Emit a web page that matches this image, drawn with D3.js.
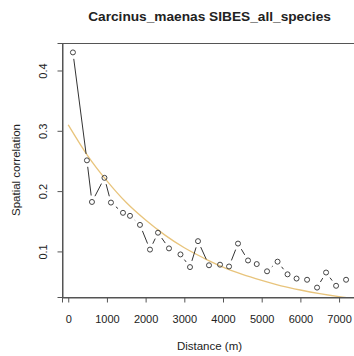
<!DOCTYPE html>
<html><head><meta charset="utf-8">
<script src="https://cdn.jsdelivr.net/npm/d3@7"></script>
<style>
body{margin:0;background:#fff}
svg{display:block}
text{font-family:"Liberation Sans",Arial,Helvetica,sans-serif;fill:#222}
</style>
</head><body>
<script>
// Correlogram: mean pair distance per class and its spatial correlation
const distance = [121, 483, 613, 936, 1104, 1415, 1596, 1854, 2113, 2320, 2604, 2901, 3147, 3354, 3638, 3923, 4156, 4388, 4647, 4872, 5138, 5410, 5668, 5901, 6173, 6431, 6664, 6923, 7181];
const correlation = [0.430, 0.251, 0.182, 0.222, 0.181, 0.164, 0.159, 0.144, 0.103, 0.131, 0.105, 0.095, 0.074, 0.117, 0.077, 0.078, 0.075, 0.113, 0.085, 0.079, 0.067, 0.083, 0.062, 0.055, 0.053, 0.040, 0.065, 0.043, 0.053];

// Fitted decay curve, sampled every 500 m
const fitDistance = [0, 500, 1000, 1500, 2000, 2500, 3000, 3500, 4000, 4500, 5000, 5500, 6000, 6500, 7000, 7500];
const fitCorrelation = [0.310, 0.259, 0.217, 0.181, 0.152, 0.127, 0.106, 0.089, 0.074, 0.062, 0.052, 0.043, 0.036, 0.030, 0.025, 0.021];

const xTicks = [0, 1000, 2000, 3000, 4000, 5000, 6000, 7000];
const yTicks = [0.1, 0.2, 0.3, 0.4];

const W = 354, H = 356;
const plot = {left: 62, right: 357, top: 43, bottom: 297};

// Axis ranges padded by 4% like R's default
function padded(vals) {
  const [lo, hi] = d3.extent(vals);
  const p = (hi - lo) * 0.04;
  return [lo - p, hi + p];
}

const x = d3.scaleLinear().domain(padded(distance)).range([plot.left, plot.right]);
const y = d3.scaleLinear().domain(padded(correlation)).range([plot.bottom, plot.top]);

const svg = d3.select("body").append("svg").attr("width", W).attr("height", H);

svg.append("defs").append("clipPath").attr("id", "plotclip")
  .append("rect")
  .attr("x", plot.left).attr("y", plot.top)
  .attr("width", plot.right - plot.left).attr("height", plot.bottom - plot.top);

// Fitted curve
svg.append("path")
  .datum(fitDistance.map((d, i) => [d, fitCorrelation[i]]))
  .attr("clip-path", "url(#plotclip)")
  .attr("fill", "none")
  .attr("stroke", "#e8c47c")
  .attr("stroke-width", 1.3)
  .attr("d", d3.line().x(d => x(d[0])).y(d => y(d[1])).curve(d3.curveMonotoneX));

// Connecting segments, broken around each point (R type = "b")
const pts = distance.map((d, i) => [x(d), y(correlation[i])]);
const gap = 6.5;
const segs = [];
for (let i = 0; i < pts.length - 1; i++) {
  const [x1, y1] = pts[i], [x2, y2] = pts[i + 1];
  const len = Math.hypot(x2 - x1, y2 - y1);
  if (len <= 2 * gap) continue;
  const ux = (x2 - x1) / len, uy = (y2 - y1) / len;
  segs.push([x1 + ux * gap, y1 + uy * gap, x2 - ux * gap, y2 - uy * gap]);
}
svg.append("g").selectAll("line").data(segs).join("line")
  .attr("x1", d => d[0]).attr("y1", d => d[1])
  .attr("x2", d => d[2]).attr("y2", d => d[3])
  .attr("stroke", "#333").attr("stroke-width", 1);

// Points
svg.append("g").selectAll("circle").data(distance).join("circle")
  .attr("cx", d => x(d))
  .attr("cy", (d, i) => y(correlation[i]))
  .attr("r", 2.5)
  .attr("fill", "none")
  .attr("stroke", "#444")
  .attr("stroke-width", 1);

// Box
svg.append("rect")
  .attr("x", plot.left + 0.5).attr("y", plot.top + 0.5)
  .attr("width", plot.right - plot.left).attr("height", plot.bottom - plot.top)
  .attr("fill", "none").attr("stroke", "#555").attr("stroke-width", 1);

// X axis
const xAxis = svg.append("g")
  .attr("transform", `translate(0,${plot.bottom + 0.5})`)
  .call(d3.axisBottom(x).tickValues(xTicks).tickFormat(d3.format("d")).tickSize(5).tickPadding(13));
xAxis.select(".domain").attr("stroke", "#555");
xAxis.selectAll(".tick line").attr("stroke", "#555");
xAxis.selectAll(".tick text").attr("font-size", 11).attr("fill", "#222")
  .style("font-family", '"Liberation Sans",Arial,sans-serif');

// Y axis with labels rotated parallel to the axis
const yAxis = svg.append("g")
  .attr("transform", `translate(${plot.left + 0.5},0)`)
  .call(d3.axisLeft(y).tickValues(yTicks).tickFormat(d3.format(".1f")).tickSize(5));
yAxis.select(".domain").attr("stroke", "#555");
yAxis.selectAll(".tick line").attr("stroke", "#555");
yAxis.selectAll(".tick text")
  .attr("x", null).attr("dy", null)
  .attr("text-anchor", "middle")
  .attr("transform", "translate(-16,0) rotate(-90)")
  .attr("font-size", 11).attr("fill", "#222")
  .style("font-family", '"Liberation Sans",Arial,sans-serif');

// Titles
svg.append("text")
  .attr("x", (plot.left + plot.right) / 2).attr("y", 21)
  .attr("text-anchor", "middle")
  .attr("font-size", 13.7).attr("font-weight", "bold")
  .text("Carcinus_maenas SIBES_all_species");

svg.append("text")
  .attr("x", (plot.left + plot.right) / 2).attr("y", 350)
  .attr("text-anchor", "middle")
  .attr("font-size", 11.5)
  .text("Distance (m)");

svg.append("text")
  .attr("transform", `translate(19.5,${(plot.top + plot.bottom) / 2}) rotate(-90)`)
  .attr("text-anchor", "middle")
  .attr("font-size", 11.5)
  .text("Spatial correlation");
</script>
</body></html>
